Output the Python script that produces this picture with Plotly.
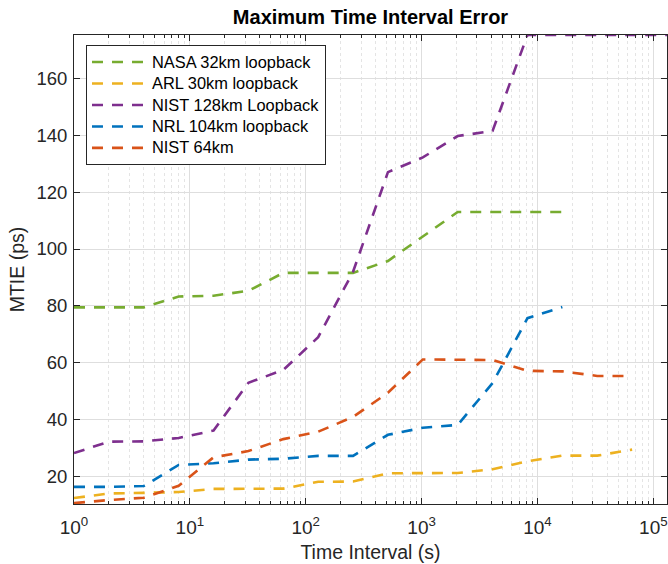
import plotly.graph_objects as go
import math

# Time interval (s) – powers of two
tau = [1, 2, 4, 8, 16, 32, 64, 128, 256, 512, 1024, 2048, 4096, 8192,
       16384, 32768, 65536, 131072]

nasa_32 = [79.5, 79.5, 79.5, 83.3, 83.6, 85.3, 91.6, 91.6, 91.6, 95.8,
           104.5, 113.0, 113.0, 113.0, 113.0]
arl_30 = [12.5, 14.1, 14.3, 14.6, 15.7, 15.7, 15.8, 18.2, 18.3, 21.2,
          21.2, 21.3, 22.6, 25.4, 27.4, 27.4, 29.5]
nist_128 = [28.3, 32.3, 32.4, 33.6, 36.2, 53.0, 57.5, 69.0, 92.0, 127.0,
            132.2, 139.7, 141.5, 175.2, 175.2, 175.2, 175.2, 175.2]
nrl_104 = [16.4, 16.4, 16.7, 24.1, 24.7, 26.0, 26.3, 27.3, 27.3, 34.7,
           37.2, 38.2, 52.9, 75.7, 79.6]
nist_64 = [10.7, 11.8, 12.6, 16.8, 26.8, 29.0, 33.2, 35.8, 41.0, 49.5,
           61.2, 61.2, 61.0, 57.2, 57.0, 55.4, 55.4]

series_names = ["NASA 32km loopback", "ARL 30km loopback", "NIST 128km Loopback",
                "NRL 104km loopback", "NIST 64km"]
series_values = [nasa_32, arl_30, nist_128, nrl_104, nist_64]
series_colors = ["#77AC30", "#EDB120", "#7E2F8E", "#0072BD", "#D95319"]

x_tickvals = [1, 10, 100, 1000, 10000, 100000]
x_ticktext = ["10<sup>0</sup>", "10<sup>1</sup>", "10<sup>2</sup>",
              "10<sup>3</sup>", "10<sup>4</sup>", "10<sup>5</sup>"]
x_minor_vals = [m * d for d in x_tickvals for m in range(2, 10)]
y_tickvals = [20, 40, 60, 80, 100, 120, 140, 160]

FONT = "Liberation Sans, Arial, Helvetica, sans-serif"
AXC = "#262626"

fig = go.Figure()
for name, vals, col in zip(series_names, series_values, series_colors):
    fig.add_trace(go.Scatter(
        x=tau[:len(vals)], y=vals,
        name='<span style="font-size:16.4px">' + name + '</span>',
        mode="lines",
        line=dict(color=col, width=2.6, dash="11px,9px"),
    ))

fig.update_layout(
    width=668, height=564,
    margin=dict(l=74, r=1, t=35, b=60),
    paper_bgcolor="white", plot_bgcolor="white",
    font=dict(family=FONT, color=AXC, size=18),
    title=dict(text="<b>Maximum Time Interval Error</b>", x=(370.5 / 668), xanchor="center",
               y=1 - 17 / 564, yanchor="middle",
               font=dict(family=FONT, size=20, color="black")),
    showlegend=True,
    legend=dict(x=0.0202, y=0.978, xanchor="left", yanchor="top",
                bgcolor="white", bordercolor=AXC, borderwidth=1,
                font=dict(family=FONT, size=14.2, color="black"),
                itemwidth=55, tracegroupgap=0),
)

fig.update_xaxes(
    type="log", range=[0, math.log10(131072)],
    tickvals=x_tickvals, ticktext=x_ticktext,
    ticks="inside", ticklen=6, tickcolor=AXC, tickwidth=1,
    showline=True, linecolor=AXC, linewidth=1, mirror="ticks",
    showgrid=True, gridcolor="#dedede", gridwidth=1,
    minor=dict(tickvals=x_minor_vals, ticks="inside", ticklen=3, tickcolor=AXC,
               showgrid=True, gridcolor="#e4e4e4", griddash="dot", gridwidth=1),
    zeroline=False,
    ticklabelstandoff=6,
    tickfont=dict(family=FONT, size=19, color=AXC),
    title=dict(text="Time Interval (s)", font=dict(family=FONT, size=19.5, color=AXC),
               standoff=8),
)
fig.update_yaxes(
    range=[10.4, 175.2], tickvals=y_tickvals,
    ticks="inside", ticklen=6, tickcolor=AXC, tickwidth=1,
    showline=True, linecolor=AXC, linewidth=1, mirror="ticks",
    showgrid=True, gridcolor="#dedede", gridwidth=1,
    zeroline=False,
    ticklabelstandoff=2,
    tickfont=dict(family=FONT, size=18.5, color=AXC),
    title=dict(text="MTIE (ps)", font=dict(family=FONT, size=19.5, color=AXC),
               standoff=6),
)

fig.write_html("out.html")
